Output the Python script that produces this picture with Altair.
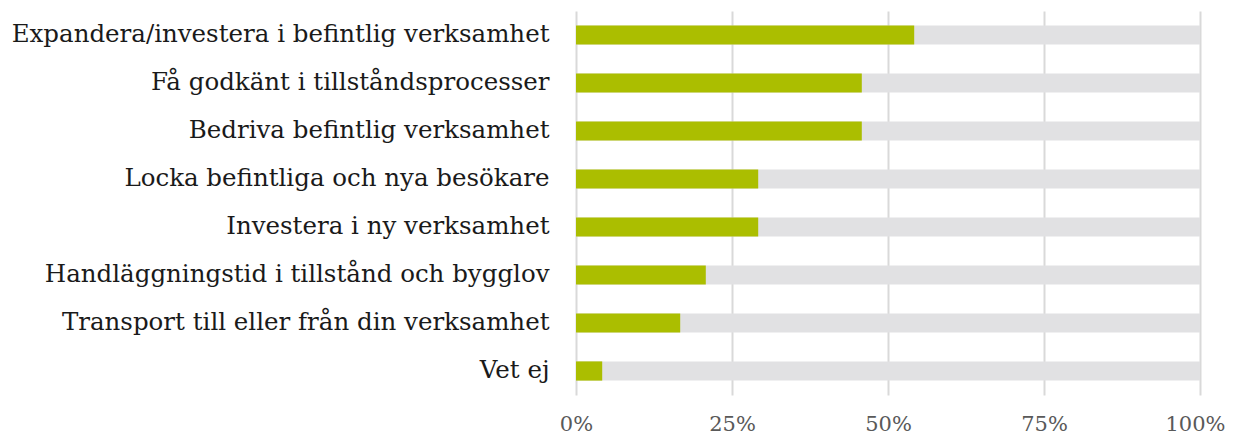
import altair as alt
import pandas as pd

categories = [
    "Expandera/investera i befintlig verksamhet",
    "Få godkänt i tillståndsprocesser",
    "Bedriva befintlig verksamhet",
    "Locka befintliga och nya besökare",
    "Investera i ny verksamhet",
    "Handläggningstid i tillstånd och bygglov",
    "Transport till eller från din verksamhet",
    "Vet ej",
]
values = [54.2, 45.8, 45.8, 29.2, 29.2, 20.8, 16.7, 4.2]
totals = [100] * len(categories)

df = pd.DataFrame({"cat": categories, "val": values, "tot": totals})

FONT = "DejaVu Serif"

y = alt.Y("cat:N", sort=categories, title=None,
          scale=alt.Scale(paddingInner=0.6, paddingOuter=0.3),
          axis=alt.Axis(domain=False, ticks=False, labelFontSize=24.5, labelFont=FONT,
                        labelColor="#1a1a1a", labelPadding=27, labelLimit=700))

bg = alt.Chart(df).mark_bar(color="#e1e1e3").encode(
    x=alt.X("tot:Q", scale=alt.Scale(domain=[0, 100]), title=None,
            axis=alt.Axis(values=[0, 25, 50, 75, 100], labelExpr="datum.value + '%'",
                          domain=False, ticks=False, grid=True, gridColor="#d9d9d9",
                          gridWidth=2, labelFontSize=21, labelFont=FONT, labelFlush=False,
                          labelOffset={"condition": {"test": "datum.value == 100", "value": -5}, "value": 0},
                          labelColor="#595959", labelPadding=18)),
    y=y,
)
fg = alt.Chart(df).mark_bar(color="#abbe00").encode(
    x="val:Q",
    y=alt.Y("cat:N", sort=categories),
)

chart = (bg + fg).properties(
    width=624, height=384,
    autosize=alt.AutoSizeParams(type="none"),
    padding={"left": 568, "top": 3, "right": 25, "bottom": 40},
).configure_view(stroke=None)

chart.save("out.html", embed_options={"renderer": "svg", "actions": False})
